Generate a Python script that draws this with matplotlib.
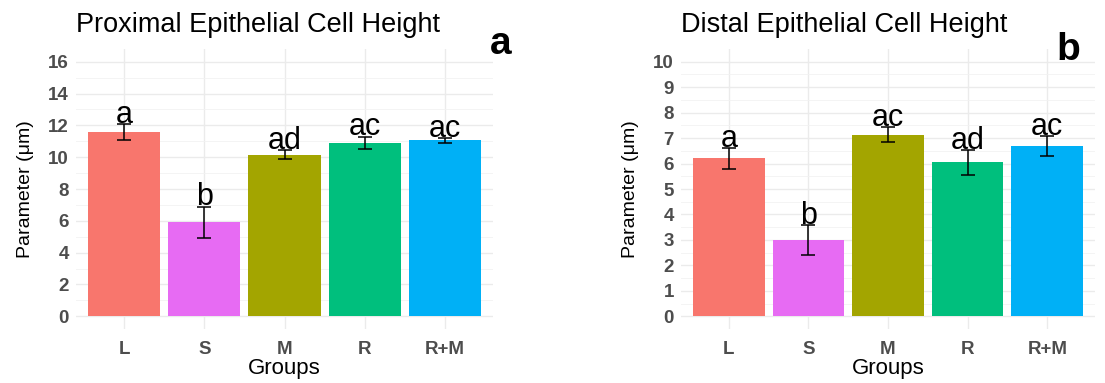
import matplotlib.pyplot as plt
import numpy as np

plt.rcParams['font.family'] = ['Liberation Sans', 'DejaVu Sans']

groups = ['L', 'S', 'M', 'R', 'R+M']
colors = ['#F8766D', '#E76BF3', '#A3A500', '#00BF7D', '#00B0F6']

# proximal epithelial cell height (mean, se)
prox_mean = [11.6, 5.9, 10.15, 10.9, 11.05]
prox_se = [0.5, 1.0, 0.28, 0.4, 0.18]
prox_sig = ['a', 'b', 'ad', 'ac', 'ac']

# distal epithelial cell height (mean, se)
dist_mean = [6.2, 3.0, 7.13, 6.05, 6.7]
dist_se = [0.4, 0.6, 0.3, 0.5, 0.4]
dist_sig = ['a', 'b', 'ac', 'ad', 'ac']

fig = plt.figure(figsize=(11.05, 3.83), dpi=100)

def panel(rect, title, means, ses, sig, ymax, ystep, tag, tag_xy):
    ax = fig.add_axes(rect)
    x = np.arange(len(groups))
    ax.bar(x, means, width=0.9, color=colors, zorder=2)
    ax.errorbar(x, means, yerr=ses, fmt='none', ecolor='black',
                elinewidth=1.1, capsize=4.7, capthick=1.1, zorder=3)
    for xi, m, s, lab in zip(x, means, ses, sig):
        ax.text(xi, m + s + ymax * 0.004, lab, ha='center', va='baseline',
                fontsize=22, color='black', zorder=4)

    pad = ymax * 0.05
    ax.set_xlim(-0.6, len(groups) - 0.4)
    ax.set_ylim(-pad, ymax + pad)
    ax.set_xticks(x)
    ax.set_xticklabels(groups)
    ax.set_yticks(np.arange(0, ymax + 0.01, ystep))
    ax.set_yticks(np.arange(ystep / 2, ymax, ystep), minor=True)
    ax.grid(which='major', color='#EBEBEB', linewidth=1.0, zorder=0)
    ax.grid(which='minor', axis='y', color='#F2F2F2', linewidth=0.6, zorder=0)
    ax.set_axisbelow(True)
    for sp in ax.spines.values():
        sp.set_visible(False)
    ax.tick_params(which='both', length=0, pad=5, labelsize=13.5,
                   labelcolor='#4D4D4D')
    for t in ax.get_xticklabels() + ax.get_yticklabels():
        t.set_fontweight('bold')
    ax.tick_params(axis='x', pad=9)
    ax.set_xlabel('Groups', fontsize=16, labelpad=0)
    ax.set_ylabel('Parameter (\u03bcm)', fontsize=14, labelpad=10)
    ax.set_title(title, loc='left', fontsize=19.5, pad=12)
    fig.text(tag_xy[0], tag_xy[1], tag, fontsize=28, fontweight='bold',
             ha='center', va='center')
    return ax

panel([0.0688, 0.141, 0.3774, 0.731], 'Proximal Epithelial Cell Height',
      prox_mean, prox_se, prox_sig, 16, 2, 'a', (0.453, 0.885))
panel([0.6163, 0.141, 0.3747, 0.731], 'Distal Epithelial Cell Height',
      dist_mean, dist_se, dist_sig, 10, 1, 'b', (0.967, 0.87))

fig.savefig('out.png', dpi=100)
